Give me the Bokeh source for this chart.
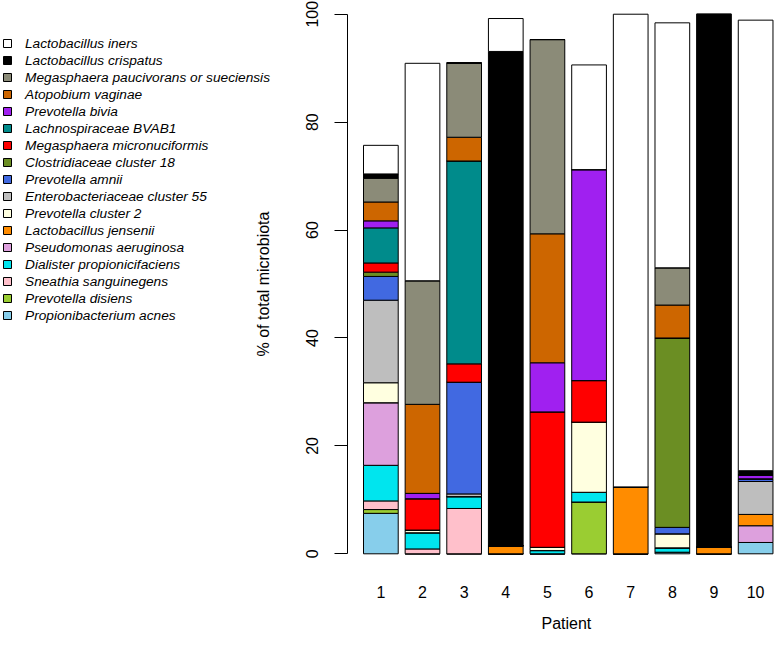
from bokeh.plotting import figure
from bokeh.models import ColumnDataSource, Legend, LegendItem, FixedTicker, Range1d, Title
from bokeh.embed import file_html
from bokeh.resources import INLINE

FONT = "Liberation Sans"

patients = ["1", "2", "3", "4", "5", "6", "7", "8", "9", "10"]

# legend order (top to bottom); stacked bottom-up in reverse order
species = [
    "Lactobacillus iners",
    "Lactobacillus crispatus",
    "Megasphaera paucivorans or sueciensis",
    "Atopobium vaginae",
    "Prevotella bivia",
    "Lachnospiraceae BVAB1",
    "Megasphaera micronuciformis",
    "Clostridiaceae cluster 18",
    "Prevotella amnii",
    "Enterobacteriaceae cluster 55",
    "Prevotella cluster 2",
    "Lactobacillus jensenii",
    "Pseudomonas aeruginosa",
    "Dialister propionicifaciens",
    "Sneathia sanguinegens",
    "Prevotella disiens",
    "Propionibacterium acnes",
]

colors = [
    "#FFFFFF", "#000000", "#8B8B78", "#CD6600", "#A020F0", "#008B8B",
    "#FF0000", "#6B8E23", "#4169E1", "#BEBEBE", "#FFFFE0", "#FF8C00",
    "#DDA0DD", "#00E5EE", "#FFC0CB", "#9ACD32", "#87CEEB",
]

l_iners        = [5.3, 40.3, 0.0, 6.1, 0.0, 19.4, 87.6, 45.4, 0.0, 83.5]
l_crispatus    = [0.8, 0.0, 0.1, 91.6, 0.0, 0.0, 0.0, 0.0, 98.8, 0.8]
m_paucivorans  = [4.4, 22.9, 13.7, 0.0, 36.0, 0.0, 0.0, 6.9, 0.0, 0.0]
a_vaginae      = [3.5, 16.5, 4.4, 0.0, 23.9, 0.0, 0.0, 6.1, 0.0, 0.0]
p_bivia        = [1.3, 1.0, 0.0, 0.0, 9.1, 39.1, 0.0, 0.0, 0.0, 0.7]
lachno_bvab1   = [6.5, 0.0, 37.6, 0.0, 0.0, 0.0, 0.0, 0.0, 0.0, 0.0]
m_micro        = [1.7, 5.8, 3.4, 0.0, 25.1, 7.7, 0.0, 0.0, 0.0, 0.0]
clostridiaceae = [0.8, 0.0, 0.0, 0.0, 0.0, 0.0, 0.0, 35.1, 0.0, 0.0]
p_amnii        = [4.4, 0.0, 20.7, 0.0, 0.0, 0.0, 0.0, 1.2, 0.0, 0.5]
enterobact     = [15.3, 0.0, 0.5, 0.0, 0.0, 0.0, 0.0, 0.0, 0.0, 6.1]
p_cluster2     = [3.7, 0.5, 0.0, 0.0, 0.6, 13.0, 0.0, 2.6, 0.0, 0.0]
l_jensenii     = [0.0, 0.0, 0.0, 1.5, 0.0, 0.0, 12.4, 0.0, 1.2, 2.1]
p_aeruginosa   = [11.6, 0.0, 0.0, 0.0, 0.0, 0.0, 0.0, 0.0, 0.0, 3.1]
d_propionici   = [6.6, 3.0, 2.2, 0.0, 0.6, 1.8, 0.0, 0.8, 0.0, 0.0]
s_sanguinegens = [1.6, 0.9, 8.4, 0.0, 0.0, 0.0, 0.0, 0.0, 0.0, 0.0]
p_disiens      = [0.7, 0.0, 0.0, 0.0, 0.0, 9.6, 0.0, 0.0, 0.0, 0.0]
p_acnes        = [7.5, 0.0, 0.0, 0.0, 0.0, 0.0, 0.0, 0.3, 0.0, 2.1]

series = [l_iners, l_crispatus, m_paucivorans, a_vaginae, p_bivia, lachno_bvab1,
          m_micro, clostridiaceae, p_amnii, enterobact, p_cluster2, l_jensenii,
          p_aeruginosa, d_propionici, s_sanguinegens, p_disiens, p_acnes]

# bar positions as in R barplot (width 1, space 0.2)
xs = [0.7 + 1.2 * i for i in range(len(patients))]

data = {"x": xs}
keys = []
for i, s in enumerate(series):
    k = "s%d" % i
    data[k] = s
    keys.append(k)
source = ColumnDataSource(data)

p = figure(width=774, height=646,
           x_range=Range1d(-10.261, 12.044), y_range=Range1d(-1.24, 102.54),
           output_backend="svg", toolbar_location=None,
           min_border_left=0, min_border_right=0, min_border_top=0, min_border_bottom=86)
p.outline_line_color = None
p.xgrid.grid_line_color = None
p.ygrid.grid_line_color = None
p.background_fill_color = "white"

stack_keys = keys[::-1]
stack_colors = colors[::-1]
renderers = p.vbar_stack(stack_keys, x="x", width=1.0, source=source,
                         fill_color=stack_colors, line_color="black", line_width=1)
rmap = dict(zip(stack_keys, renderers))

items = [LegendItem(label=species[i], renderers=[rmap[keys[i]]]) for i in range(len(species))]
legend = Legend(items=items, location=(2, 237))
legend.label_text_font = FONT
legend.label_text_font_style = "italic"
legend.label_text_font_size = "13.7px"
legend.label_text_color = "black"
legend.glyph_width = 10
legend.glyph_height = 10
legend.label_height = 16
legend.spacing = 1
legend.label_standoff = 13
legend.padding = 0
legend.margin = 0
legend.border_line_alpha = 0
legend.background_fill_alpha = 0
p.add_layout(legend, "center")

# y axis (drawn at the left edge of the bar region)
yax = p.yaxis[0]
yax.fixed_location = -0.27
yax.ticker = FixedTicker(ticks=[0, 20, 40, 60, 80, 100])
yax.bounds = (0, 100)
yax.major_label_orientation = "vertical"
yax.major_tick_out = 13
yax.major_tick_in = 0
yax.minor_tick_line_color = None
yax.major_label_standoff = 16
yax.major_label_text_font = FONT
yax.major_label_text_font_size = "16px"
yax.major_label_text_color = "black"
yax.axis_line_color = "black"
yax.major_tick_line_color = "black"
yax.axis_label = "% of total microbiota"
yax.axis_label_text_font = FONT
yax.axis_label_text_font_size = "16px"
yax.axis_label_text_font_style = "normal"
yax.axis_label_text_color = "black"
yax.axis_label_standoff = 32

# x axis
xax = p.xaxis[0]
xax.ticker = FixedTicker(ticks=xs)
xax.major_label_overrides = {x: lab for x, lab in zip(xs, patients)}
xax.axis_line_color = None
xax.major_tick_line_color = None
xax.minor_tick_line_color = None
xax.major_tick_out = 0
xax.major_tick_in = 0
xax.major_label_standoff = 25
xax.major_label_text_font = FONT
xax.major_label_text_font_size = "16px"
xax.major_label_text_color = "black"

xtitle = Title(text="Patient", align="left", offset=541, standoff=25,
               vertical_align="bottom",
               text_font=FONT, text_font_size="16px", text_font_style="normal",
               text_color="black")
p.add_layout(xtitle, "below")

open("out.html", "w").write(file_html(p, INLINE))
